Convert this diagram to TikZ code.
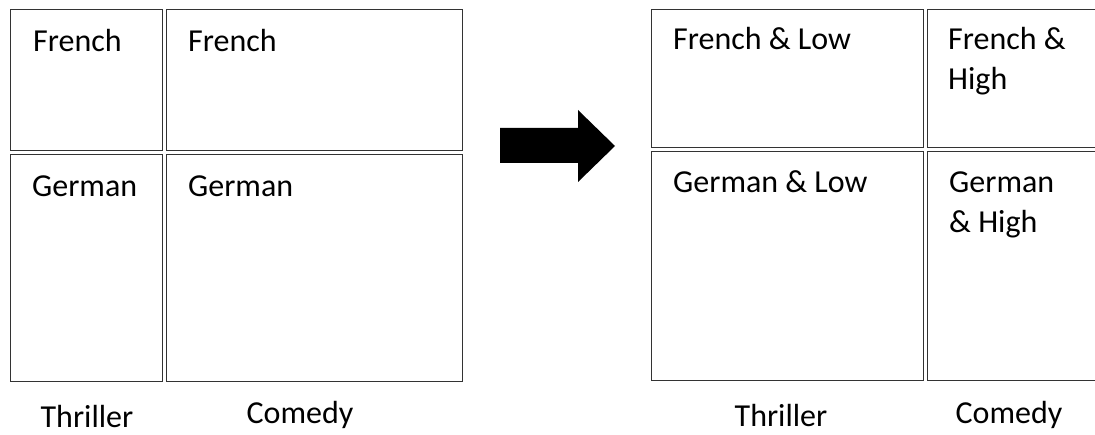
\documentclass[tikz,border=0pt]{standalone}
\usepackage{fontspec}
\setmainfont{Carlito}
\usetikzlibrary{shapes,arrows}
\tikzstyle{cell} = [rectangle, anchor=north west, inner sep=0pt, draw=black!80, line width=1.4pt]
\tikzstyle{celltext} = [anchor=base west, inner sep=0pt, align=left, font=\fontsize{32}{40}\selectfont]
\tikzstyle{genre} = [anchor=base, inner sep=0pt, font=\fontsize{32}{40}\selectfont]

\begin{document}
\begin{tikzpicture}[x=1pt,y=-1pt]
\useasboundingbox (0,0) rectangle (1095,435);

% before the split
\node (fr1) [cell, minimum width=152pt, minimum height=141pt] at (10,9) {};
\node (fr2) [cell, minimum width=296pt, minimum height=141pt] at (166,9) {};
\node (ge1) [cell, minimum width=152pt, minimum height=227pt] at (10,154) {};
\node (ge2) [cell, minimum width=296pt, minimum height=227pt] at (166,154) {};
\node (fr1t) [celltext] at ([shift={(23,43)}]fr1.north west) {French};
\node (fr2t) [celltext] at ([shift={(22,43)}]fr2.north west) {French};
\node (ge1t) [celltext] at ([shift={(22,43)}]ge1.north west) {German};
\node (ge2t) [celltext] at ([shift={(22,43)}]ge2.north west) {German};
\node (thr1) [genre] at (87,428) {Thriller};
\node (com1) [genre] at (300,424) {Comedy};

% arrow
\fill[black] (500,128) -- (578,128) -- (578,110) -- (615,146) -- (578,182) -- (578,163) -- (500,163) -- cycle;

% after the split (base of two-line cells = last line)
\node (frlow) [cell, minimum width=272pt, minimum height=138pt] at (651,9) {};
\node (frhigh) [cell, minimum width=300pt, minimum height=138pt] at (927,9) {};
\node (gelow) [cell, minimum width=272pt, minimum height=229pt] at (651,151) {};
\node (gehigh) [cell, minimum width=300pt, minimum height=229pt] at (927,151) {};
\node (frlowt) [celltext] at ([shift={(22,41)}]frlow.north west) {French \& Low};
\node (frhight) [celltext] at ([shift={(21,81)}]frhigh.north west) {French \&\\High};
\node (gelowt) [celltext] at ([shift={(22,42)}]gelow.north west) {German \& Low};
\node (gehight) [celltext] at ([shift={(22,82)}]gehigh.north west) {German\\\& High};
\node (thr2) [genre] at (781,427) {Thriller};
\node (com2) [genre] at (1009,424) {Comedy};

\end{tikzpicture}
\end{document}
